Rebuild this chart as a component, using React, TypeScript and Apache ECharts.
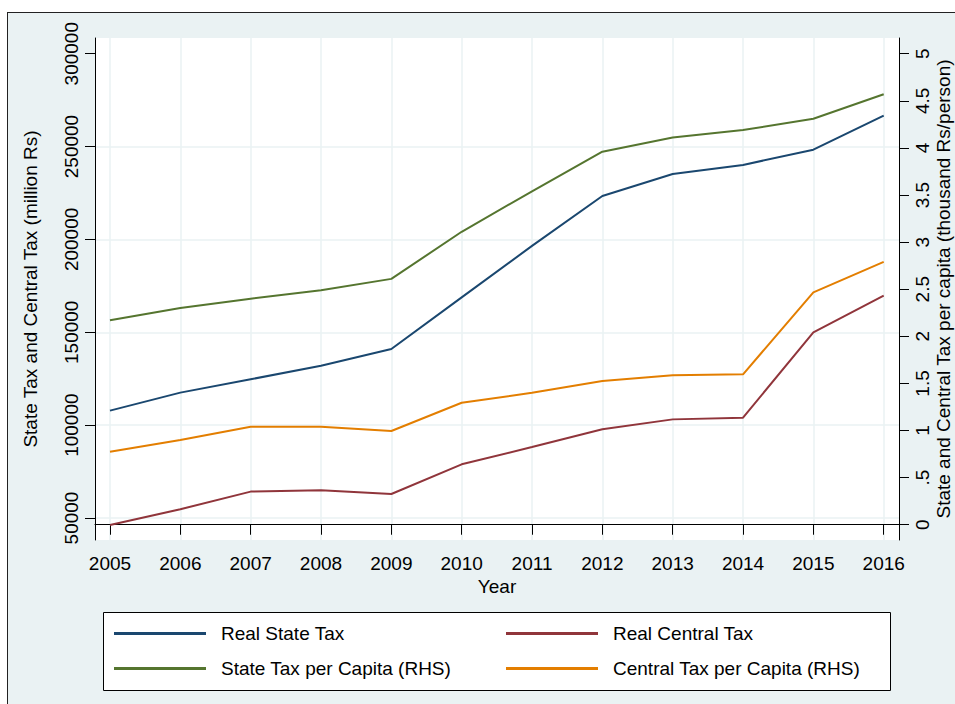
import React, { useEffect, useRef } from "react";
import * as echarts from "echarts";

const years = [2005, 2006, 2007, 2008, 2009, 2010, 2011, 2012, 2013, 2014, 2015, 2016];
const realStateTax = [107800, 117500, 124700, 132000, 141000, 168800, 196500, 223400, 235200, 240100, 248300, 266600];
const realCentralTax = [46200, 54700, 64200, 64900, 62900, 78900, 88200, 97800, 103100, 104000, 150000, 169700];
const statePerCapita = [2.17, 2.3, 2.4, 2.49, 2.61, 3.11, 3.54, 3.96, 4.11, 4.19, 4.31, 4.57];
const centralPerCapita = [0.775, 0.9, 1.04, 1.04, 0.995, 1.295, 1.4, 1.525, 1.586, 1.597, 2.467, 2.79];
const leftTicks = [50000, 100000, 150000, 200000, 250000, 300000];
const leftGridTicks = [50000, 100000, 150000, 200000, 250000];
const rightTicks = [0, 0.5, 1, 1.5, 2, 2.5, 3, 3.5, 4, 4.5, 5];

const FONT = "'Liberation Sans', Arial, sans-serif";
const GRID_COLOR = "#eaf2f3";

export default function App() {
  const ref = useRef<HTMLDivElement>(null);
  useEffect(() => {
    if (!ref.current) return;
    const chart = echarts.init(ref.current, undefined, { renderer: "svg" });
    const pairs = (vals: number[]) => years.map((y, i) => [y, vals[i]]);
    const axisText = { color: "#000", fontSize: 19, fontFamily: FONT };
    chart.setOption({
      animation: false,
      backgroundColor: "transparent",
      textStyle: { fontFamily: FONT },
      grid: {
        left: 95,
        right: 56,
        top: 38,
        bottom: 164,
        show: true,
        backgroundColor: "#fff",
        borderWidth: 0,
        containLabel: false,
        outerBoundsMode: "none",
      },
      xAxis: {
        type: "value",
        min: 2004.787,
        max: 2016.2175,
        name: "Year",
        nameLocation: "middle",
        nameGap: 37,
        nameMoveOverlap: false,
        nameTextStyle: axisText,
        axisLine: { show: true, lineStyle: { color: "#000", width: 1 } },
        axisTick: { show: true, length: 10, customValues: years, lineStyle: { color: "#000" } },
        axisLabel: { ...axisText, margin: 14, customValues: years, formatter: (v: number) => String(v) },
        splitLine: { show: true, lineStyle: { color: GRID_COLOR, width: 1.5 } },
      },
      yAxis: [
        {
          type: "value",
          position: "left",
          min: 38150,
          max: 308450,
          name: "State Tax and Central Tax (million Rs)",
          nameLocation: "middle",
          nameRotate: 90,
          nameGap: 55,
          nameMoveOverlap: false,
          nameTextStyle: axisText,
          axisLine: { show: true, lineStyle: { color: "#000", width: 1 } },
          axisTick: { show: true, length: 10, customValues: leftTicks, lineStyle: { color: "#000" } },
          axisLabel: { ...axisText, rotate: 90, margin: 14, customValues: leftTicks, formatter: (v: number) => String(v) },
          splitLine: { show: false },
        },
        {
          type: "value",
          position: "right",
          min: -0.162,
          max: 5.167,
          name: "State and Central Tax per capita (thousand Rs/person)",
          nameLocation: "middle",
          nameRotate: 90,
          nameGap: 35,
          nameMoveOverlap: false,
          nameTextStyle: axisText,
          axisLine: { show: true, lineStyle: { color: "#000", width: 1 } },
          axisTick: { show: true, length: 10, customValues: rightTicks, lineStyle: { color: "#000" } },
          axisLabel: {
            ...axisText,
            rotate: 90,
            margin: 14,
            customValues: rightTicks,
            formatter: (v: number) => (v > 0 && v < 1 ? String(v).replace(/^0/, "") : String(v)),
          },
          splitLine: { show: false },
        },
        {
          type: "value",
          position: "left",
          min: 38150,
          max: 308450,
          axisLine: { show: false },
          axisTick: { show: false, customValues: leftGridTicks },
          axisLabel: { show: false, customValues: leftGridTicks },
          splitLine: { show: true, lineStyle: { color: GRID_COLOR, width: 1.5 } },
        },
      ],
      legend: [
        {
          data: ["Real State Tax", "State Tax per Capita (RHS)"],
          orient: "vertical",
          left: 114,
          top: 624,
          padding: 0,
          itemWidth: 92,
          itemHeight: 3,
          itemGap: 16,
          icon: "rect",
          textStyle: { ...axisText, padding: [0, 0, 0, 10] },
        },
        {
          data: ["Real Central Tax", "Central Tax per Capita (RHS)"],
          orient: "vertical",
          left: 506,
          top: 624,
          padding: 0,
          itemWidth: 92,
          itemHeight: 3,
          itemGap: 16,
          icon: "rect",
          textStyle: { ...axisText, padding: [0, 0, 0, 10] },
        },
      ],
      graphic: [
        {
          type: "rect",
          z: -1,
          shape: { x: 103.5, y: 612.5, width: 787, height: 78 },
          style: { fill: "#fff", stroke: "#000", lineWidth: 1 },
        },
      ],
      series: [
        {
          name: "Real State Tax",
          type: "line",
          yAxisIndex: 0,
          data: pairs(realStateTax),
          symbol: "none",
          lineStyle: { color: "#1a476f", width: 2 },
          itemStyle: { color: "#1a476f" },
        },
        {
          name: "Real Central Tax",
          type: "line",
          yAxisIndex: 0,
          data: pairs(realCentralTax),
          symbol: "none",
          lineStyle: { color: "#90353b", width: 2 },
          itemStyle: { color: "#90353b" },
        },
        {
          name: "State Tax per Capita (RHS)",
          type: "line",
          yAxisIndex: 1,
          data: pairs(statePerCapita),
          symbol: "none",
          lineStyle: { color: "#55752f", width: 2 },
          itemStyle: { color: "#55752f" },
        },
        {
          name: "Central Tax per Capita (RHS)",
          type: "line",
          yAxisIndex: 1,
          data: pairs(centralPerCapita),
          symbol: "none",
          lineStyle: { color: "#e37e00", width: 2 },
          itemStyle: { color: "#e37e00" },
        },
      ],
    });
    return () => chart.dispose();
  }, []);

  return (
    <div style={{ position: "fixed", left: 0, top: 0, width: 955, height: 704, background: "#fff", overflow: "hidden" }}>
      <div
        style={{
          position: "absolute",
          left: 7,
          top: 12,
          right: 0,
          bottom: 0,
          background: "#eaf2f3",
          borderLeft: "1px solid #222",
          borderTop: "1px solid #222",
        }}
      />
      <div ref={ref} style={{ position: "absolute", left: 0, top: 0, width: 955, height: 704 }} />
    </div>
  );
}
